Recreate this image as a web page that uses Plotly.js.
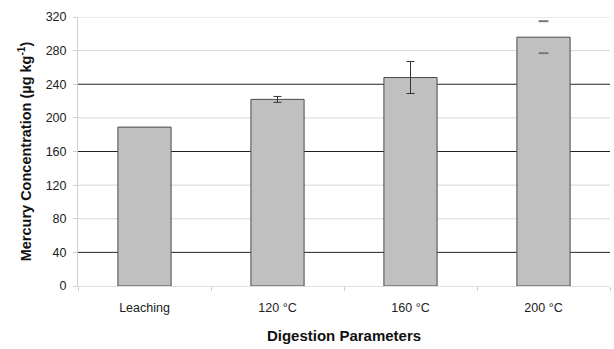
<!DOCTYPE html>
<html>
<head>
<meta charset="utf-8">
<script src="https://cdn.plot.ly/plotly-3.0.1.min.js"></script>
<style>html,body{margin:0;padding:0;background:#fff;}#chart{width:614px;height:349px;}</style>
</head>
<body>
<div id="chart"></div>
<script>
const categories = ["Leaching", "120 °C", "160 °C", "200 °C"];
const values = [189, 222, 248, 296];
const errors = [0, 3.5, 19, 19];
const stemVisible = [false, true, true, false];
const yTicks = [0, 40, 80, 120, 160, 200, 240, 280, 320];
const darkGrid = [40, 160, 240];

const stemErr = errors.map((e, i) => stemVisible[i] ? e : NaN);
const capIdx = errors.map((e, i) => (!stemVisible[i] && e > 0) ? i : -1).filter(i => i >= 0);
const capX = [], capY = [];
capIdx.forEach(i => { capX.push(categories[i], categories[i]); capY.push(values[i] + errors[i], values[i] - errors[i]); });

const traces = [
  {
    type: 'bar', x: categories, y: values,
    marker: {color: '#c0c0c0', line: {color: '#4a4a4a', width: 1}},
    error_y: {type: 'data', array: stemErr, visible: true, color: '#333', thickness: 1, width: 4},
    width: 0.4, hoverinfo: 'none'
  },
  {
    type: 'scatter', mode: 'markers', x: capX, y: capY,
    marker: {symbol: 'line-ew', size: 7, line: {color: '#777', width: 2}},
    hoverinfo: 'none'
  }
];

const shapes = yTicks.filter(v => v > 0).map(v => ({
  type: 'line', xref: 'paper', x0: 0, x1: 1, yref: 'y', y0: v, y1: v,
  line: {color: darkGrid.includes(v) ? '#222' : '#d6d6d6', width: 1}, layer: 'below'
}));

const FONT = 'Liberation Sans, Arial, sans-serif';
const layout = {
  width: 614, height: 349,
  margin: {l: 78, r: 4, t: 17, b: 63},
  paper_bgcolor: '#fff', plot_bgcolor: 'rgba(0,0,0,0)',
  showlegend: false,
  font: {family: FONT, size: 12.5, color: '#222'},
  xaxis: {
    type: 'category', tickson: 'boundaries', ticks: 'outside', ticklen: 4,
    tickcolor: '#cfcfcf', showgrid: false, showline: true, linecolor: '#e0e0e0',
    ticklabelstandoff: 10, range: [-0.5, categories.length - 0.5],
    title: {text: 'Digestion Parameters', font: {size: 15, color: '#111', family: FONT, weight: 'bold'}, standoff: 16},
    tickfont: {size: 12.5, color: '#222'}
  },
  yaxis: {
    range: [0, 320], tickvals: yTicks, ticktext: yTicks.map(String),
    ticks: 'outside', ticklen: 4, tickcolor: '#d0d0d0',
    ticklabelstandoff: 4,
    showgrid: false,
    showline: true, linecolor: '#d0d0d0', zeroline: false,
    tickfont: {size: 12.5, color: '#222'},
    title: {text: 'Mercury Concentration (µg kg<sup>-1</sup>)', font: {size: 14.5, color: '#111', family: FONT, weight: 'bold'}, standoff: 10}
  },
  shapes: shapes
};

Plotly.newPlot('chart', traces, layout, {displayModeBar: false, staticPlot: true});
</script>
</body>
</html>
